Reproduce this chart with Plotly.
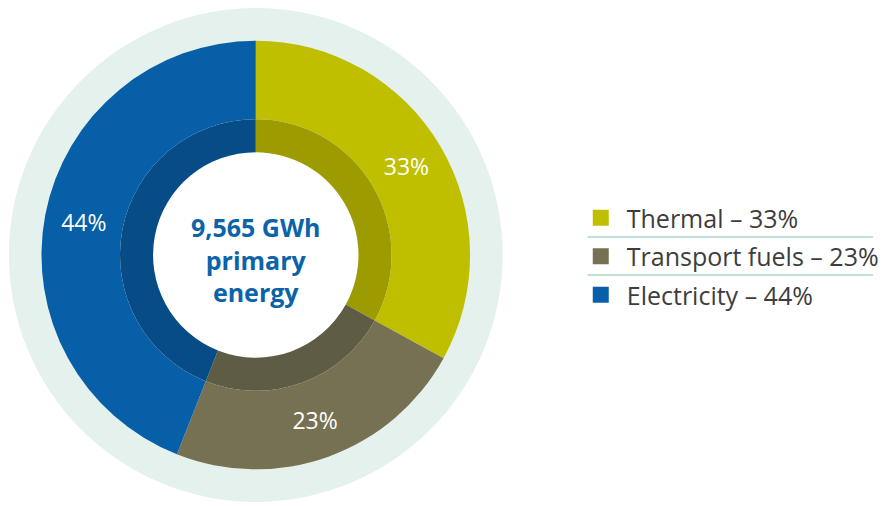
import plotly.graph_objects as go

labels = ["Thermal", "Transport fuels", "Electricity"]
values = [33, 23, 44]
colors = ["#bfbf00", "#767152", "#0760a7"]
inner_colors = ["#9c9c00", "#5e5c45", "#074c86"]
center_text = "9,565 GWh<br>primary<br>energy"

W, H = 884, 506
CX, CY = 259, 255


def dom(r):
    return dict(x=[(CX - r) / W, (CX + r) / W], y=[1 - (CY + r) / H, 1 - (CY - r) / H])


fig = go.Figure()

# pale outer ring
fig.add_trace(go.Pie(values=[1], marker=dict(colors=["#e4f1ed"]), hole=0.8,
                     domain=dom(250), textinfo="none", hoverinfo="skip",
                     showlegend=False, sort=False))

# main ring with labels
fig.add_trace(go.Pie(labels=labels, values=values, marker=dict(colors=colors),
                     hole=137.5 / 217, domain=dom(217), sort=False,
                     direction="clockwise", rotation=0,
                     texttemplate="%{value}%", textposition="inside",
                     insidetextorientation="horizontal",
                     textfont=dict(family="Open Sans", size=23, color="white"),
                     hoverinfo="skip", showlegend=False))

# darker inner ring
fig.add_trace(go.Pie(labels=labels, values=values, marker=dict(colors=inner_colors),
                     hole=104 / 137.5, domain=dom(137.5), sort=False,
                     direction="clockwise", rotation=0, textinfo="none",
                     hoverinfo="skip", showlegend=False))

# legend entries
for lab, val, col in zip(labels, values, colors):
    fig.add_trace(go.Scatter(x=[None], y=[None], mode="markers", name=f"{lab} – {val}%",
                             legendgroup=lab,
                             marker=dict(symbol="square", size=20, color=col)))

fig.update_layout(
    width=W, height=H, margin=dict(l=0, r=0, t=0, b=0),
    paper_bgcolor="white", plot_bgcolor="white",
    xaxis=dict(visible=False), yaxis=dict(visible=False),
    legend=dict(x=582 / W, y=1 - 195 / H, xanchor="left", yanchor="top",
                font=dict(family="Open Sans", size=25, color="#3d3d3d"),
                itemwidth=42, traceorder="grouped", tracegroupgap=3,
                bgcolor="rgba(0,0,0,0)"),
    annotations=[dict(text=center_text, x=CX / W, y=1 - CY / H, xref="paper", yref="paper",
                      xanchor="center", yanchor="middle", yshift=-4, showarrow=False,
                      font=dict(family="Open Sans", size=25, color="#0b63a9", weight="bold"))],
    shapes=[
        dict(type="line", xref="paper", yref="paper", x0=595 / W, x1=1, y0=1 - 237 / H, y1=1 - 237 / H,
             line=dict(color="#bfe0d6", width=2)),
        dict(type="line", xref="paper", yref="paper", x0=595 / W, x1=1, y0=1 - 275 / H, y1=1 - 275 / H,
             line=dict(color="#bfe0d6", width=2)),
    ],
)

fig.write_html("out.html")
